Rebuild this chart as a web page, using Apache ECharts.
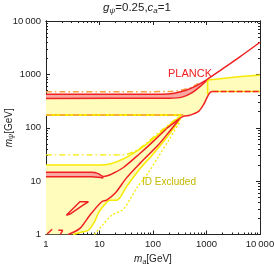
<!DOCTYPE html>
<html><head><meta charset="utf-8">
<script src="https://cdn.jsdelivr.net/npm/echarts@6/dist/echarts.min.js"></script>
<style>html,body{margin:0;padding:0;background:#fff}#c{width:274px;height:264px}</style>
</head><body><div id="c"></div>
<script>
// ---- data (m_a [GeV], m_psi [GeV]) ----
const majorTicks = [1, 10, 100, 1000, 10000];
const tickLabels = ['1', '10', '100', '1000', '10\u2009000'];
const minorTicks = [2,3,4,5,6,7,8,9,20,30,40,50,60,70,80,90,200,300,400,500,600,700,800,900,2000,3000,4000,5000,6000,7000,8000,9000];

const planckUpper = [[1,422],[150,424],[250,445],[400,500],[600,590],[1000,790],[2000,1270],[4200,2130],[10000,4000]];
const planckLower = [[1,355],[200,357],[350,375],[550,460],[800,620],[1000,770]];
const orangeTop = [[1,472],[200,476],[330,505],[500,565],[700,680]];
const yellowTopRight = [[1050,785],[2000,840],[5000,920],[10000,975]];
const yellowVertical = [[1050,420],[1050,785]];
const lowerRightRed = [[180,97],[250,125],[366,163],[491,172],[700,200],[870,266],[1000,350],[1080,410],[1180,462],[1300,476]];
const rightDashed = [[1300,476],[10000,476]];
const topBottomEdge = [[1,173],[366,173]];

const yellowUpperLow = [[1,20],[10,20],[15.7,21],[30,27],[57,40],[109,66],[208,115],[330,165]];
const yellowLowerLow = [[3.2,1],[4.5,1.1],[6.2,1.2],[8,1.7],[9.5,2.5],[11,3.1],[15.7,4.4],[21,4.4],[32,7.9],[57,17],[100,32],[200,75],[330,150]];
const dashDotLow = [[1,31],[27,31],[50,38],[81,55],[135,85],[220,125],[300,160]];
const lowBandUpper = [[1,14.6],[7,14.6],[9.5,13.8],[11.8,12.2],[14,12.6],[18,14],[28,18],[57,33],[100,55],[180,97]];
const lowBandLower = [[1,12.1],[7,12.1],[9.5,11.8],[11.8,11.4]];
const lowRedCurve = [[2.6,1],[4.3,1.3],[6.6,2.3],[11,4.1],[13.6,4.4],[19.5,5.9],[32,11.5],[57,21.5],[126,48],[208,88],[300,140]];
const yellowDotted = [[8,1],[12,1.6],[17,2.3],[27,2.9],[37,4.5],[50,7.5],[80,14],[130,30],[200,60],[320,130]];
const redLoop = [[2.4,2.3],[4.3,4.1],[6.2,4.1],[5.0,3.6],[2.9,2.45],[2.4,2.3]];
const redMark1 = [[1.05,1.02],[1.3,1.25]];
const redMark2 = [[1.7,1.2],[2.05,1.2],[1.85,1.0]];

// ---- styles ----
const RED = '#f02020', PINK = '#f8a8a0', YFILL = '#fffcbc', YLINE = '#f6ea00', ORANGE = '#f8a040';

function poly(pts, color, z) {
  return { type: 'custom', coordinateSystem: 'cartesian2d', silent: true, z: z, clip: true,
    data: [pts[0]], encode: { x: 0, y: 1 },
    renderItem: function (params, api) {
      return { type: 'polygon', shape: { points: pts.map(p => api.coord(p)) }, style: { fill: color } };
    } };
}
function line(pts, color, width, type, z, smooth) {
  return { type: 'line', data: pts, symbol: 'none', showSymbol: false, smooth: smooth || 0, silent: true, clip: true,
    lineStyle: { color: color, width: width, type: type || 'solid' }, z: z || 3 };
}

const topFill = planckLower.concat(yellowTopRight, [[10000,476]], lowerRightRed.slice(2).reverse(), [[1,173]]);
const pinkTop = planckUpper.slice(0,6).concat(planckLower.slice().reverse());
const lowFill = yellowUpperLow.concat(yellowLowerLow.slice().reverse(), [[1,1]]);
const pinkLow = lowBandUpper.slice(0,4).concat(lowBandLower.slice().reverse());

const FONT = 'Liberation Sans';
function xAx(pos, labels, ticks, len) {
  return { type: 'log', logBase: 10, min: 1, max: 10000, position: pos,
    axisLine: { show: true, onZero: false, lineStyle: { color: '#222', width: 1 } },
    axisTick: { show: true, inside: true, length: len, customValues: ticks, lineStyle: { color: '#222' } },
    axisLabel: labels ? { show: true, customValues: majorTicks, formatter: v => tickLabels[majorTicks.indexOf(Math.round(v))] || '', fontFamily: FONT, fontSize: 9.5, color: '#222', margin: 5 } : { show: false },
    splitLine: { show: false } };
}
const nameRich = { i: { fontStyle: 'italic', fontSize: 10, fontFamily: FONT }, s: { fontStyle: 'italic', fontSize: 7, padding: [5,0,0,0], fontFamily: FONT }, n: { fontSize: 10, fontFamily: FONT } };
const option = {
  animation: false,
  grid: { left: 46, right: 14, top: 21, bottom: 29.5, containLabel: false, outerBoundsMode: 'none' },
  xAxis: [
    Object.assign(xAx('bottom', true, majorTicks, 4), { name: '{i|m}{s|a}{n|[GeV]}', nameLocation: 'middle', nameGap: 19,
      nameTextStyle: { fontFamily: FONT, fontSize: 10, color: '#222', rich: nameRich } }),
    xAx('bottom', false, minorTicks, 2),
    xAx('top', false, majorTicks, 4),
    xAx('top', false, minorTicks, 2)
  ],
  yAxis: [
    Object.assign(xAx('left', true, majorTicks, 4), { name: '{i|m}{s|ψ}{n|[GeV]}', nameLocation: 'middle', nameGap: 31, nameRotate: 90, nameMoveOverlap: false,
      nameTextStyle: { fontFamily: FONT, fontSize: 10, color: '#222', rich: nameRich } }),
    xAx('left', false, minorTicks, 2),
    xAx('right', false, majorTicks, 4),
    xAx('right', false, minorTicks, 2)
  ],
  graphic: [
    { type: 'text', left: 'center', top: 2, style: { text: '{i|g}{s|ψ}{n|=0.25,}{i|c}{s|a}{n|=1}', fill: '#222', font: '11px ' + FONT,
      rich: { i: { fontStyle: 'italic', fontSize: 11.5, fontFamily: FONT }, s: { fontStyle: 'italic', fontSize: 8, padding: [6,0,0,0], fontFamily: FONT }, n: { fontSize: 11.5, fontFamily: FONT } } } },
    { type: 'text', x: 190, y: 74, style: { text: 'PLANCK', fill: RED, font: '11px ' + FONT, align: 'center', verticalAlign: 'middle' }, z: 100 },
    { type: 'text', x: 169, y: 182.5, style: { text: 'ID Excluded', fill: '#c4b800', font: '10px ' + FONT, align: 'center', verticalAlign: 'middle' }, z: 100 }
  ],
  series: [
    poly(topFill, YFILL, 1),
    poly(lowFill, YFILL, 1),
    poly(pinkTop, PINK, 2),
    poly(pinkLow, PINK, 2),
    line(yellowUpperLow, YLINE, 1.5, 'solid', 3, 0.3),
    line(yellowLowerLow, YLINE, 1.5, 'solid', 3, 0.3),
    line(dashDotLow, YLINE, 1.3, [6,3,1.5,3], 3, 0.3),
    line(yellowDotted, YLINE, 1.3, [2,2], 3, 0.3),
    line(yellowTopRight, YLINE, 1.5, 'solid', 3, 0.2),
    line(yellowVertical, YLINE, 1.5, 'solid', 3, 0),
    line(topBottomEdge, YLINE, 2, 'solid', 3, 0),
    line(topBottomEdge, ORANGE, 1.5, [6,3,1.5,3], 4, 0),
    line(rightDashed, YLINE, 1.5, 'solid', 3, 0),
    line(rightDashed, RED, 1.5, [6,2], 4, 0),
    line(orangeTop, ORANGE, 1.5, [6,3,1.5,3], 4, 0.3),
    line(planckUpper, RED, 1.5, 'solid', 5, 0.3),
    line(planckLower, RED, 1.5, 'solid', 5, 0.3),
    line(lowBandUpper, RED, 1.5, 'solid', 5, 0.3),
    line(lowBandLower, RED, 1.5, 'solid', 5, 0.3),
    line(lowerRightRed, RED, 1.5, 'solid', 5, 0.3),
    line(lowRedCurve, RED, 1.5, 'solid', 5, 0.3),
    line(redLoop, RED, 1.5, 'solid', 5, 0),
    line(redMark1, RED, 1.5, 'solid', 5, 0),
    line(redMark2, RED, 1.5, 'solid', 5, 0)
  ]
};
option.series.forEach(s => { s.xAxisIndex = 0; s.yAxisIndex = 0; });
const chart = echarts.init(document.getElementById('c'), null, { renderer: 'canvas' });
chart.setOption(option);
</script>
</body></html>
